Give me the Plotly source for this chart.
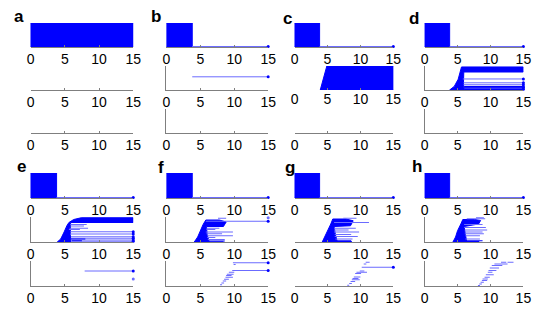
import plotly.graph_objects as go

# ---------------- data ----------------
panel_labels = ["a", "b", "c", "d", "e", "f", "g", "h"]
tick_vals = [0, 5, 10, 15]
tick_text = ["0", "5", "10", "15"]
x_max = 15

# row 1 of every panel: a solid block starting at 0, then a thin tail to 15
block_end = [15.0, 3.8, 3.8, 3.8, 3.8, 3.8, 3.8, 3.8]
has_tail = [False, True, True, True, True, True, True, True]

# rows 2 and 3: segments (y, x_start, x_end); polygons of dense dark fill
b2_light = [(0.55, 3.8, 15.0)]

c2_poly = [[(3.9, 0.0), (15.0, 0.0), (15.0, 1.0), (4.9, 1.0)]]

d2_poly = [[(3.8, 0.0), (6.0, 0.0), (5.9, 0.25), (5.95, 0.75), (15.0, 0.75), (15.0, 0.96),
            (5.6, 0.96), (5.4, 0.75), (5.1, 0.45), (4.5, 0.15)]]
d2_light_poly = [[(6.0, 0.0), (15.0, 0.0), (15.0, 0.16), (6.0, 0.16)]]
d2_light = [(0.46, 5.8, 15.0), (0.30, 5.9, 15.0), (0.22, 5.9, 15.0)]
d2_dark = [(0.03, 6.0, 15.0), (0.09, 6.0, 15.0), (0.14, 6.0, 15.0)]

e2_poly = [[(3.9, 0.0), (5.9, 0.0), (5.8, 0.3), (5.85, 0.78), (15.0, 0.78), (15.0, 0.97),
            (7.4, 0.97), (6.3, 0.9), (5.6, 0.78), (5.3, 0.65), (4.9, 0.4), (4.4, 0.12)]]
e2_light = [(0.70, 5.8, 8.2), (0.64, 5.8, 7.8), (0.55, 5.7, 8.4), (0.50, 5.6, 7.2),
            (0.41, 5.8, 15.0), (0.32, 5.8, 15.0), (0.21, 5.9, 15.0), (0.15, 5.9, 15.0),
            (0.08, 6.0, 15.0), (0.03, 6.0, 15.0)]
e2_dark = [(0.12, 5.9, 8.0), (0.05, 6.0, 7.5)]
e3_light = [(0.60, 7.9, 15.0)]
e3_dots = [(15.0, 0.28)]

f2_poly = [[(4.1, 0.0), (6.3, 0.0), (6.0, 0.3), (5.9, 0.62), (8.4, 0.62), (8.8, 0.8),
            (7.8, 0.88), (5.8, 0.88), (5.4, 0.7), (5.0, 0.45), (4.6, 0.2)]]
f2_light = [(0.95, 7.6, 8.8), (0.83, 5.8, 15.0), (0.55, 5.9, 7.8), (0.50, 5.9, 7.2),
            (0.40, 5.8, 9.8), (0.33, 5.9, 8.2), (0.25, 6.0, 9.8), (0.18, 6.0, 7.2),
            (0.10, 6.1, 8.6)]
f2_dark = [(0.04, 6.2, 8.6), (0.01, 6.2, 8.4)]
f2_dots = [(15.0, 0.97)]
f3_light = [(0.93, 9.8, 15.0), (0.62, 9.7, 15.0), (0.86, 9.9, 10.2), (0.55, 9.2, 10.0),
            (0.47, 8.9, 9.9), (0.42, 8.8, 9.6), (0.35, 8.7, 9.8), (0.27, 8.5, 9.2),
            (0.20, 8.3, 8.8), (0.12, 8.1, 8.5), (0.05, 7.9, 8.2)]

g2_poly = [[(4.2, 0.0), (6.5, 0.0), (6.2, 0.3), (6.0, 0.62), (8.5, 0.65), (8.9, 0.85),
            (7.8, 0.92), (5.8, 0.92), (5.5, 0.72), (5.0, 0.45), (4.6, 0.2)]]
g2_light = [(0.95, 7.4, 9.4), (0.78, 6.0, 11.3), (0.55, 6.0, 9.3), (0.48, 6.0, 8.2),
            (0.40, 6.0, 9.8), (0.30, 6.1, 8.6), (0.22, 6.1, 9.6), (0.12, 6.2, 8.8)]
g2_dark = [(0.05, 6.3, 8.6), (0.02, 6.3, 8.7)]
g3_light = [(0.95, 10.8, 11.4), (0.88, 10.5, 10.9), (0.75, 10.2, 15.0), (0.60, 9.9, 10.6),
            (0.55, 9.4, 11.0), (0.50, 9.2, 10.1), (0.36, 9.0, 10.0), (0.30, 8.8, 9.7),
            (0.25, 8.7, 9.9), (0.18, 8.5, 9.2), (0.10, 8.3, 8.7), (0.03, 8.0, 8.3)]

h2_poly = [[(4.3, 0.0), (6.4, 0.0), (6.2, 0.3), (6.0, 0.62), (8.2, 0.72), (8.5, 0.86),
            (7.6, 0.9), (5.8, 0.9), (5.5, 0.72), (5.0, 0.45), (4.7, 0.2)]]
h2_light = [(0.97, 7.8, 9.0), (0.93, 6.4, 9.2), (0.70, 6.0, 8.8), (0.58, 6.0, 9.3),
            (0.48, 6.1, 9.5), (0.40, 6.1, 8.8), (0.33, 6.1, 9.0), (0.25, 6.2, 8.4),
            (0.12, 6.2, 8.4)]
h2_dark = [(0.05, 6.3, 8.8), (0.02, 6.3, 8.3)]
h3_light = [(0.95, 11.6, 12.4), (0.95, 12.6, 13.5), (0.88, 10.6, 12.6), (0.82, 10.2, 11.8),
            (0.72, 9.9, 11.3), (0.62, 9.7, 10.9), (0.55, 9.6, 10.3), (0.45, 9.3, 10.5),
            (0.35, 9.1, 9.9), (0.28, 8.8, 9.6), (0.22, 8.7, 9.5), (0.15, 8.5, 9.0),
            (0.08, 8.3, 8.7), (0.02, 8.1, 8.4)]

# which axis lines are drawn: [row1, row2, row3]
show_yline = {"a": [0, 0, 0], "b": [0, 1, 1], "c": [0, 0, 0], "d": [0, 1, 1],
              "e": [0, 1, 1], "f": [0, 1, 1], "g": [0, 0, 0], "h": [0, 1, 1]}
show_xline = {"c": [1, 0, 1]}

subplot_data = {
    ("b", 2): dict(light=b2_light),
    ("c", 2): dict(poly=c2_poly),
    ("d", 2): dict(poly=d2_poly, lpoly=d2_light_poly, light=d2_light, dark=d2_dark),
    ("e", 2): dict(poly=e2_poly, light=e2_light, dark=e2_dark),
    ("e", 3): dict(light=e3_light, dots=e3_dots),
    ("f", 2): dict(poly=f2_poly, light=f2_light, dark=f2_dark, dots=f2_dots),
    ("f", 3): dict(light=f3_light),
    ("g", 2): dict(poly=g2_poly, light=g2_light, dark=g2_dark),
    ("g", 3): dict(light=g3_light),
    ("h", 2): dict(poly=h2_poly, light=h2_light, dark=h2_dark),
    ("h", 3): dict(light=h3_light),
}

# ---------------- layout (page pixels; the page body has an 8px margin) ----------------
OFF = 8
W, H = 548 - OFF, 313 - OFF
cols_px = [(27, 132), (166, 270), (297, 398), (430, 531)]
rows_px = [[(23, 47), (66, 90), (109, 133)], [(173, 198), (217, 242), (261, 286)]]
label_px = [(15, 17), (155, 17), (290, 19), (419, 18),
            (18, 166), (160, 167), (292, 167), (422, 166)]

DARK = "#0000ff"
LIGHT = "#6b6bff"
GRAY = "#7f7f7f"

fig = go.Figure()
layout = dict(width=W, height=H, margin=dict(l=0, r=0, t=0, b=0),
              paper_bgcolor="white", plot_bgcolor="rgba(0,0,0,0)", showlegend=False)


def fx(px):
    return (px - OFF) / W


def fy(py):
    return 1 - (py - OFF) / H


def seg_xy(segs):
    xs, ys = [], []
    for y, x0, x1 in segs:
        xs += [x0, x1, None]
        ys += [y, y, None]
    return xs, ys


k = 0
for p, lab in enumerate(panel_labels):
    col = p % 4
    row = p // 4
    for s in range(3):
        k += 1
        xa = "x" if k == 1 else f"x{k}"
        ya = "y" if k == 1 else f"y{k}"
        px0, px1 = cols_px[col]
        py0, py1 = rows_px[row][s]
        xl = show_xline.get(lab, [1, 1, 1])[s]
        yl = show_yline[lab][s]
        layout["xaxis" if k == 1 else f"xaxis{k}"] = dict(
            domain=[fx(px0), fx(px1)], anchor=ya, range=[0, x_max],
            tickvals=tick_vals, ticktext=tick_text, ticks="inside", ticklen=2,
            tickcolor=GRAY, showline=bool(xl), linecolor=GRAY, linewidth=1,
            showgrid=False, zeroline=False, fixedrange=True, ticklabelstandoff=-1,
            tickfont=dict(family="Liberation Sans", size=14, color="black"))
        layout["yaxis" if k == 1 else f"yaxis{k}"] = dict(
            domain=[fy(py1), fy(py0)], anchor=xa, range=[0, 1],
            showticklabels=False, ticks="", showline=bool(yl), linecolor=GRAY,
            linewidth=1, showgrid=False, zeroline=False, fixedrange=True)

        # empty trace so that every subplot is drawn
        fig.add_trace(go.Scatter(x=[None], y=[None], mode="lines", xaxis=xa, yaxis=ya,
                                 hoverinfo="skip"))

        if s == 0:
            be = block_end[p]
            fig.add_trace(go.Scatter(x=[0, be, be, 0, 0], y=[0, 0, 1, 1, 0], mode="lines",
                                     fill="toself", fillcolor=DARK, line=dict(color=DARK, width=1),
                                     xaxis=xa, yaxis=ya, hoverinfo="skip"))
            if has_tail[p]:
                fig.add_trace(go.Scatter(x=[be, x_max], y=[0.02, 0.02], mode="lines",
                                         line=dict(color=LIGHT, width=1),
                                         xaxis=xa, yaxis=ya, hoverinfo="skip"))
                fig.add_trace(go.Scatter(x=[x_max], y=[0.02], mode="markers",
                                         marker=dict(color=DARK, size=3), cliponaxis=False,
                                         xaxis=xa, yaxis=ya, hoverinfo="skip"))
            continue

        d = subplot_data.get((lab, s + 1))
        if not d:
            continue
        for poly in d.get("lpoly", []):
            xs = [v[0] for v in poly] + [poly[0][0]]
            ys = [v[1] for v in poly] + [poly[0][1]]
            fig.add_trace(go.Scatter(x=xs, y=ys, mode="lines", fill="toself",
                                     fillcolor="#8f8fff", line=dict(color="#8f8fff", width=0.5),
                                     xaxis=xa, yaxis=ya, hoverinfo="skip"))
        for poly in d.get("poly", []):
            xs = [v[0] for v in poly] + [poly[0][0]]
            ys = [v[1] for v in poly] + [poly[0][1]]
            fig.add_trace(go.Scatter(x=xs, y=ys, mode="lines", fill="toself",
                                     fillcolor=DARK, line=dict(color=DARK, width=1),
                                     xaxis=xa, yaxis=ya, hoverinfo="skip"))
        for key, colr, wd in (("light", LIGHT, 1), ("dark", DARK, 1.2)):
            segs = d.get(key, [])
            if not segs:
                continue
            xs, ys = seg_xy(segs)
            fig.add_trace(go.Scatter(x=xs, y=ys, mode="lines", line=dict(color=colr, width=wd),
                                     xaxis=xa, yaxis=ya, hoverinfo="skip", connectgaps=False))
            ends = [(x1, y) for y, x0, x1 in segs if x1 >= x_max]
            if ends:
                fig.add_trace(go.Scatter(x=[e[0] for e in ends], y=[e[1] for e in ends],
                                         mode="markers", marker=dict(color=DARK, size=3),
                                         cliponaxis=False, xaxis=xa, yaxis=ya, hoverinfo="skip"))
        dots = d.get("dots", [])
        if dots:
            fig.add_trace(go.Scatter(x=[v[0] for v in dots], y=[v[1] for v in dots],
                                     mode="markers", marker=dict(color=LIGHT, size=3),
                                     cliponaxis=False, xaxis=xa, yaxis=ya, hoverinfo="skip"))

annotations = []
for lab, (lx, ly) in zip(panel_labels, label_px):
    annotations.append(dict(text=f"<b>{lab}</b>", x=fx(lx), y=fy(ly), xref="paper",
                            yref="paper", xanchor="center", yanchor="middle", showarrow=False,
                            font=dict(family="Liberation Sans", size=17, color="black")))
layout["annotations"] = annotations
fig.update_layout(**layout)
fig.write_html("out.html")
